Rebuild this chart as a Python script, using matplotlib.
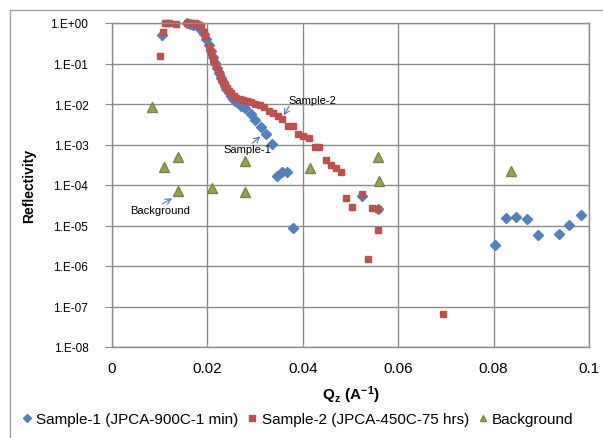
import numpy as np
import matplotlib as mpl
mpl.use('Agg')
import matplotlib.pyplot as plt
from matplotlib.ticker import FuncFormatter, FixedLocator, NullLocator
from matplotlib.lines import Line2D

mpl.rcParams['font.family'] = ['Liberation Sans', 'DejaVu Sans']
mpl.rcParams['mathtext.fontset'] = 'custom'
mpl.rcParams['mathtext.rm'] = 'Liberation Sans'
mpl.rcParams['mathtext.bf'] = 'Liberation Sans:bold'

# Sample-1 (JPCA-900C-1 min): Qz, log10(R)
q1 = [0.01038, 0.0158, 0.0163, 0.0170, 0.0176, 0.0182, 0.0187, 0.0193,
      0.0198, 0.0203, 0.0208, 0.0212, 0.0216, 0.0220, 0.0224, 0.0228, 0.0232,
      0.0236, 0.0240, 0.0245, 0.0250, 0.0254, 0.0258, 0.02625, 0.02694, 0.02784,
      0.02904, 0.02994, 0.0312, 0.03224, 0.03348, 0.03449, 0.03568, 0.03673,
      0.0379, 0.05245, 0.05581, 0.08025, 0.0827, 0.0848, 0.08704, 0.08935,
      0.09375, 0.09591, 0.09836]
lr1 = [-0.30, -0.01, -0.02, -0.04, -0.06, -0.10, -0.17, -0.28,
       -0.40, -0.55, -0.70, -0.85, -0.98, -1.12, -1.24, -1.35, -1.46,
       -1.55, -1.63, -1.71, -1.80, -1.87, -1.93, -1.96, -2.04, -2.10,
       -2.25, -2.39, -2.58, -2.74, -2.99, -3.79, -3.69, -3.67,
       -5.07, -4.27, -4.60, -5.49, -4.82, -4.79, -4.84, -5.23,
       -5.20, -4.98, -4.73]

# Sample-2 (JPCA-450C-75 hrs)
q2 = [0.01002, 0.01059, 0.01107, 0.01153, 0.0119, 0.01352, 0.01562, 0.0161,
      0.01681, 0.01736, 0.01786, 0.01834, 0.01876, 0.01939, 0.0195, 0.02038,
      0.0208, 0.02122, 0.02143, 0.02184, 0.02218, 0.02254, 0.02289, 0.02331,
      0.02373, 0.02415, 0.02463, 0.02505, 0.02553, 0.02604, 0.02673, 0.0275,
      0.02834, 0.02918, 0.03008, 0.03099, 0.03182, 0.03287, 0.0338, 0.03476,
      0.03568, 0.03686, 0.03799, 0.03904, 0.04008, 0.04134, 0.04252, 0.0435,
      0.04476, 0.04581, 0.04686, 0.04805, 0.0491, 0.05021, 0.05245, 0.05363,
      0.05455, 0.05581, 0.05581, 0.06929]
lr2 = [-0.82, -0.21, 0.0, 0.0, 0.0, -0.02, 0.0, 0.0,
       -0.01, -0.01, -0.02, -0.04, -0.066, -0.21, -0.33, -0.60,
       -0.72, -0.89, -0.97, -1.055, -1.15, -1.26, -1.36, -1.45,
       -1.53, -1.61, -1.67, -1.74, -1.80, -1.85, -1.88, -1.90,
       -1.935, -1.96, -2.00, -2.03, -2.08, -2.17, -2.23, -2.29,
       -2.36, -2.54, -2.54, -2.74, -2.79, -2.85, -3.07, -3.06,
       -3.39, -3.51, -3.57, -3.69, -4.33, -4.54, -4.21, -5.83,
       -4.57, -4.60, -5.10, -7.19]

# Background
qb = [0.00843, 0.0110, 0.01388, 0.01388, 0.02086, 0.02784, 0.02784, 0.04161,
      0.05581, 0.05594, 0.08369]
lrb = [-2.07, -3.55, -3.30, -4.16, -4.08, -3.40, -4.18, -3.59,
       -3.32, -3.91, -3.65]

xticks = [0, 0.02, 0.04, 0.06, 0.08, 0.1]
yticks = [1e-8, 1e-7, 1e-6, 1e-5, 1e-4, 1e-3, 1e-2, 1e-1, 1e0]

blue, red, green = '#4F81BD', '#C0504D', '#8FA550'
grid_c = '#8C8C8C'

fig = plt.figure(figsize=(6.03, 4.39), dpi=100)
ax = fig.add_axes([112/603, 1-348/439, (589-112)/603, (348-24)/439])

ax.plot(q1, 10**np.array(lr1), ls='None', marker='D', ms=5.5, mfc=blue, mec=blue,
        clip_on=False, label='Sample-1 (JPCA-900C-1 min)')
ax.plot(q2, 10**np.array(lr2), ls='None', marker='s', ms=5, mfc=red, mec=red,
        clip_on=False, label='Sample-2 (JPCA-450C-75 hrs)')
ax.plot(qb, 10**np.array(lrb), ls='None', marker='^', ms=6.5, mfc=green, mec='#76883C',
        clip_on=False, label='Background')

ax.set_yscale('log')
ax.set_xlim(0, 0.1)
ax.set_ylim(1e-8, 1)
ax.xaxis.set_major_locator(FixedLocator(xticks))
ax.yaxis.set_major_locator(FixedLocator(yticks))
ax.yaxis.set_minor_locator(NullLocator())
ax.xaxis.set_major_formatter(FuncFormatter(lambda x, pos: '{:g}'.format(round(x, 3))))
ax.yaxis.set_major_formatter(FuncFormatter(
    lambda y, pos: '1.E{:+03d}'.format(int(round(np.log10(y))))))
ax.grid(True, color=grid_c, lw=1.0)
ax.set_axisbelow(True)
for s in ax.spines.values():
    s.set_color(grid_c)
    s.set_linewidth(1.0)
ax.tick_params(axis='y', which='major', length=5, color=grid_c, labelsize=8.5, pad=12)
ax.tick_params(axis='x', which='major', length=0, labelsize=11, pad=10)

ax.set_ylabel('Reflectivity', fontsize=10, fontweight='bold', labelpad=10)
ax.set_xlabel(r'$\mathbf{Q_z\ (A^{-1})}$', fontsize=11, labelpad=6)

arr = dict(arrowstyle='->', color='#4A7EBB', lw=0.8, shrinkA=0, shrinkB=0)
ax.annotate('', xy=(0.0360, 10**-2.28), xytext=(0.0371, 10**-2.06), arrowprops=arr)
ax.text(0.0370, 10**-1.90, 'Sample-2', fontsize=8, va='center', ha='left')
ax.annotate('', xy=(0.0311, 10**-2.80), xytext=(0.0294, 10**-2.97), arrowprops=arr)
ax.text(0.0233, 10**-3.10, 'Sample-1', fontsize=8, va='center', ha='left')
ax.annotate('', xy=(0.0126, 10**-4.33), xytext=(0.0105, 10**-4.47), arrowprops=arr)
ax.text(0.0039, 10**-4.61, 'Background', fontsize=8, va='center', ha='left')

h = [Line2D([], [], ls='None', marker='D', ms=4, mfc=blue, mec=blue),
     Line2D([], [], ls='None', marker='s', ms=4, mfc=red, mec=red),
     Line2D([], [], ls='None', marker='^', ms=5, mfc=green, mec='#76883C')]
fig.legend(h, ['Sample-1 (JPCA-900C-1 min)', 'Sample-2 (JPCA-450C-75 hrs)', 'Background'],
           loc='center', bbox_to_anchor=(298/603, 1-420/439), ncol=3, frameon=False,
           fontsize=11, handlelength=0.6, handletextpad=0.3, columnspacing=0.6)

# outer chart border (left and top visible)
fig.add_artist(Line2D([10/603, 10/603], [0, 1-11/439], color='#A0A0A0', lw=1.0))
fig.add_artist(Line2D([10/603, 1], [1-11/439, 1-11/439], color='#A0A0A0', lw=1.0))

fig.savefig('out.png', dpi=100)
